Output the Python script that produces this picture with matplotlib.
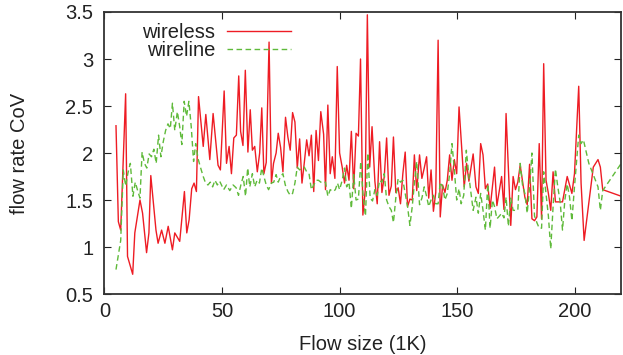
import matplotlib
matplotlib.use("Agg")
import matplotlib.pyplot as plt

plt.rcParams['font.family'] = ['Liberation Sans', 'DejaVu Sans']

wireless_x = [4.9, 5.9, 6.9, 9.0, 9.8, 12.0, 12.9, 15.1, 16.2, 17.9, 18.9, 19.7, 21.9, 22.8, 24.3,
              25.7, 27.1, 28.9, 29.9, 32.0, 34.0, 35.0, 36.0, 37.1, 38.1, 39.1, 40.0, 42.0, 43.1,
              44.8, 46.2, 48.3, 49.3, 50.9, 51.9, 53.0, 54.0, 55.0, 56.1, 57.1, 57.9, 58.9, 59.9,
              61.0, 62.0, 62.9, 63.9, 65.0, 66.0, 66.9, 67.8, 68.8, 70.0, 71.0, 71.9, 73.0, 73.9,
              74.9, 75.9, 77.0, 78.0, 79.0, 80.0, 81.0, 82.0, 83.0, 84.0, 85.0, 86.0, 87.0, 88.0,
              89.0, 90.0, 91.0, 92.0, 93.2, 94.0, 95.0, 96.0, 96.9, 98.0, 99.0, 100.0, 101.1, 102.1,
              103.0, 104.0, 105.0, 106.0, 107.0, 108.0, 108.9, 109.9, 110.9, 111.8, 112.8, 113.8,
              115.0, 116.0, 117.0, 118.0, 119.0, 120.0, 121.0, 122.0, 122.9, 123.9, 124.9, 125.9,
              126.9, 127.9, 128.9, 129.9, 130.9, 131.8, 132.8, 134.0, 135.0, 136.0, 137.0, 137.9,
              138.9, 139.9, 140.9, 141.9, 142.8, 143.8, 144.8, 145.8, 146.8, 147.8, 148.8, 149.8,
              150.8, 153.0, 154.0, 155.0, 156.8, 158.0, 159.0, 160.0, 161.0, 162.0, 163.0, 164.0,
              165.9, 166.9, 168.9, 169.9, 170.8, 172.8, 173.8, 174.8, 175.8, 176.8, 178.8, 179.8,
              180.8, 181.8, 182.9, 183.9, 184.9, 185.9, 186.8, 187.8, 188.8, 189.8, 190.8, 191.8,
              194.8, 196.8, 198.8, 199.9, 201.7, 202.7, 204.0, 207.9, 209.9, 210.9, 211.9, 219.8]
wireless_y = [2.29, 1.27, 1.18, 2.63, 0.90, 0.71, 1.15, 1.50, 1.36, 0.94, 1.15, 1.76, 1.18, 1.04, 1.18,
              1.04, 1.22, 0.97, 1.15, 1.06, 1.59, 1.15, 1.29, 1.62, 1.68, 1.59, 2.60, 2.07, 2.41,
              1.93, 2.42, 1.87, 1.82, 2.66, 1.89, 2.07, 1.78, 2.16, 2.19, 2.82, 2.23, 2.08, 2.88,
              2.01, 2.46, 2.03, 2.07, 1.80, 2.00, 2.48, 1.78, 1.90, 3.18, 1.68, 1.89, 2.00, 2.21,
              2.06, 1.80, 2.38, 2.17, 2.03, 2.43, 2.33, 1.84, 2.15, 1.68, 1.90, 2.14, 1.97, 2.19,
              1.59, 2.24, 1.92, 2.44, 2.20, 1.61, 2.51, 1.78, 1.96, 1.73, 2.92, 2.00, 1.85, 1.68,
              1.87, 1.71, 2.23, 1.62, 2.21, 2.18, 3.00, 1.34, 1.60, 3.47, 1.85, 2.28,
              1.70, 1.46, 2.12, 1.58, 1.75, 2.16, 1.55, 1.65, 2.17, 1.58, 1.63, 1.46,
              1.78, 2.01, 1.43, 1.51, 1.50, 1.98, 1.60, 1.98, 1.73, 1.84, 1.96, 1.52,
              1.82, 1.38, 1.58, 3.20, 1.32, 1.66, 1.58, 1.71, 1.98, 1.71, 1.93, 1.78,
              2.49, 1.64, 1.89, 1.70, 1.99, 1.64, 1.57, 2.10, 1.98, 1.62, 1.67, 1.41,
              1.85, 1.44, 1.75, 1.40, 2.42, 1.23, 1.75, 1.61, 1.69, 1.87, 1.53, 1.45,
              1.88, 1.30, 1.28, 1.32, 2.10, 1.30, 2.95, 1.71, 1.57, 1.39, 1.80, 1.48,
              1.48, 1.75, 1.57, 1.78, 2.71, 1.68, 1.07, 1.85, 1.93, 1.85, 1.61, 1.54]

wireline_x = [4.9, 6.9, 8.0, 9.0, 10.0, 11.0, 12.1, 13.1, 14.1, 15.1, 16.0, 17.0, 18.0, 19.0, 20.0,
              21.0, 22.0, 23.0, 24.0, 25.0, 26.0, 27.0, 28.0, 28.9, 29.9, 31.0, 32.0, 32.9, 33.9,
              34.9, 35.9, 36.9, 37.9, 38.8, 39.8, 40.8, 42.0, 43.0, 44.0, 45.0, 46.0, 47.0, 48.0,
              49.0, 50.7, 51.9, 53.3, 54.7, 56.0, 57.0, 58.0, 59.0, 60.0, 60.9, 61.8, 62.9, 63.9,
              64.9, 65.9, 66.9, 67.8, 68.8, 69.8, 71.0, 72.0, 73.0, 73.9, 74.9, 75.9, 76.9, 78.0,
              79.0, 80.0, 81.0, 82.0, 83.0, 84.0, 85.0, 86.0, 87.0, 88.0, 89.0, 90.0, 91.0, 92.0,
              93.0, 94.0, 95.0, 96.0, 97.2, 98.2, 99.1, 100.0, 101.1, 102.1, 103.0, 104.0, 105.0,
              106.0, 107.0, 108.0, 109.0, 110.0, 111.0, 112.0, 113.0, 114.0, 115.0, 116.0, 117.0,
              118.0, 119.0, 120.0, 121.0, 122.0, 122.9, 123.9, 124.9, 125.9, 126.9, 127.9, 128.9,
              129.9, 130.9, 131.8, 132.8, 134.0, 135.0, 136.0, 137.0, 137.9, 138.9, 139.9, 140.9,
              141.9, 142.8, 143.8, 144.8, 145.8, 146.8, 147.8, 148.8, 149.8, 150.8, 151.7, 152.8,
              153.9, 155.0, 156.8, 158.0, 159.0, 160.0, 161.0, 162.0, 163.0, 164.0, 165.0, 165.9,
              166.9, 168.0, 168.9, 169.9, 170.8, 171.8, 172.8, 173.8, 175.8, 176.8, 177.8, 178.8,
              179.8, 180.8, 181.8, 182.9, 183.9, 184.9, 185.9, 186.8, 187.8, 188.8, 189.8, 190.8,
              191.8, 192.8, 193.8, 194.8, 195.8, 196.8, 197.8, 198.8, 199.9, 200.9, 201.7, 202.7,
              203.7, 206.0, 209.9, 210.9, 211.9, 219.8]
wireline_y = [0.76, 1.07, 1.82, 1.65, 1.79, 1.89, 1.54, 1.69, 1.60, 1.52, 2.01, 1.89, 1.84, 1.99, 1.96,
              2.04, 1.89, 2.19, 1.96, 2.12, 2.24, 2.31, 2.26, 2.53, 2.24, 2.44, 2.28, 2.09, 2.55,
              2.39, 2.55, 2.28, 1.91, 2.10, 1.94, 1.85, 1.75, 1.68, 1.66, 1.69, 1.64, 1.71, 1.66,
              1.70, 1.61, 1.66, 1.60, 1.66, 1.63, 1.55, 1.66, 1.75, 1.54, 1.84, 1.64, 1.78, 1.64,
              1.71, 1.68, 1.84, 1.75, 1.66, 1.61, 1.68, 1.69, 1.77, 1.69, 1.75, 1.78, 1.66, 1.59,
              1.55, 1.57, 1.68, 1.85, 1.82, 1.84, 1.85, 1.80, 1.78, 1.61, 1.66, 1.71, 1.71, 1.69,
              1.68, 1.69, 1.54, 1.61, 1.59, 1.61, 1.68, 1.61, 1.71, 1.84, 1.64, 1.69, 1.41,
              1.77, 1.50, 1.51, 1.91, 1.54, 1.33, 2.00, 1.52, 1.49, 1.61, 1.55, 1.71,
              1.69, 1.78, 1.50, 1.43, 1.39, 1.26, 1.52, 1.73, 1.69, 1.71, 1.57, 1.43,
              1.23, 1.43, 1.68, 1.91, 1.45, 1.52, 1.64, 1.54, 1.43, 1.50, 1.55, 1.46,
              1.46, 1.69, 1.64, 1.50, 1.57, 1.78, 2.10, 1.82, 1.50, 1.62, 1.46, 1.55,
              2.03, 1.75, 1.39, 1.53, 1.36, 1.57, 1.39, 1.18, 1.67, 1.20, 1.50, 1.43,
              1.30, 1.33, 1.36, 1.31, 1.53, 1.22, 1.52, 1.39, 1.39, 1.89, 1.66, 1.57,
              1.36, 1.64, 2.00, 1.33, 1.26, 1.20, 1.20, 1.80, 1.57, 1.33, 0.98, 1.43,
              1.83, 1.64, 1.48, 1.18, 1.50, 1.67, 1.53, 1.28, 1.64, 1.94, 2.19, 2.10,
              2.14, 1.89, 1.64, 1.39, 1.60, 1.89]

x_ticks = [0, 50, 100, 150, 200]
y_ticks = [0.5, 1, 1.5, 2, 2.5, 3, 3.5]
y_tick_labels = ['0.5', '1', '1.5', '2', '2.5', '3', '3.5']

FS = 14.5
fig = plt.figure(figsize=(6.23, 3.55), dpi=100)
ax = fig.add_axes([0.1677, 0.1718, 0.8284, 0.7944])

red = '#ee1c24'
green = '#5fba3a'
ax.plot(wireless_x, wireless_y, color=red, lw=1.0, label='wireless')
ax.plot(wireline_x, wireline_y, color=green, lw=1.0, dashes=(4, 2.5), label='wireline')

ax.set_xlim(0, 219.5)
ax.set_ylim(0.5, 3.5)
ax.set_xticks(x_ticks)
ax.set_yticks(y_ticks)
ax.set_yticklabels(y_tick_labels)
ax.tick_params(direction='in', top=True, right=True, length=5, width=0.8,
               labelsize=FS, colors='#222222')
ax.tick_params(axis='x', pad=6)
ax.tick_params(axis='y', pad=8)
for s in ax.spines.values():
    s.set_linewidth(1.3)
    s.set_color('#333333')

ax.set_xlabel('Flow size (1K)', fontsize=FS, color='#222222')
ax.set_ylabel('flow rate CoV', fontsize=FS, color='#222222')
ax.xaxis.set_label_coords(0.5, -0.145)
ax.yaxis.set_label_coords(-0.146, 0.5)

leg = ax.legend(loc='upper left', bbox_to_anchor=(0.058, 0.989), frameon=False,
                markerfirst=False, fontsize=FS, handlelength=3.2, labelspacing=-0.05,
                handletextpad=0.55, borderaxespad=0.0)
for t in leg.get_texts():
    t.set_ha('right')
    t.set_color('#222222')

fig.savefig('out.png', dpi=100)
